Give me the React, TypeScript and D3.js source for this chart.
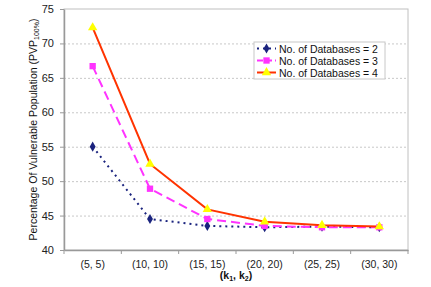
import { useRef, useEffect } from "react";
import * as d3 from "d3";

const categories = ["(5, 5)", "(10, 10)", "(15, 15)", "(20, 20)", "(25, 25)", "(30, 30)"];
const db2 = [55.0, 44.5, 43.5, 43.3, 43.4, 43.3];
const db3 = [66.7, 48.9, 44.5, 43.5, 43.3, 43.3];
const db4 = [72.3, 52.5, 45.9, 44.1, 43.6, 43.4];
const yTicks = [40, 45, 50, 55, 60, 65, 70, 75];
const seriesNames = ["No. of Databases = 2", "No. of Databases = 3", "No. of Databases = 4"];

const FONT = "'Liberation Sans', Arial, sans-serif";

export default function App() {
  const ref = useRef<SVGSVGElement>(null);

  useEffect(() => {
    if (!ref.current) return;
    const svg = d3.select(ref.current); svg.selectAll("*").remove();
    const margin = { top: 9, right: 23, bottom: 37, left: 64 };
    const W = 431, H = 287;
    const width = W - margin.left - margin.right;
    const height = H - margin.top - margin.bottom;
    svg.attr("width", W).attr("height", H);
    svg.append("rect").attr("width", W).attr("height", H).attr("fill", "#fff");
    const g = svg.append("g").attr("transform", `translate(${margin.left},${margin.top})`);

    const x = d3.scaleBand().domain(categories).range([0, width]);
    const y = d3.scaleLinear().domain([40, 75]).range([height, 0]);
    const cx = (c: string) => x(c)! + x.bandwidth() / 2;

    // plot frame
    g.append("rect").attr("x", 0).attr("y", 0).attr("width", width).attr("height", height)
      .attr("fill", "none").attr("stroke", "#c0c0c0").attr("stroke-width", 1);

    // gridlines
    g.selectAll(".grid").data(yTicks.filter(t => t > 40 && t < 75)).join("line")
      .attr("x1", 0).attr("x2", width).attr("y1", d => y(d) + 0.5).attr("y2", d => y(d) + 0.5)
      .attr("stroke", "#c8c8c8").attr("stroke-dasharray", "2,2");

    // axes
    const yAxis = g.append("g").call(d3.axisLeft(y).tickValues(yTicks).tickSize(4).tickSizeOuter(0).tickPadding(6));
    yAxis.selectAll("text").attr("fill", "#222").attr("font-size", "11px").attr("font-family", FONT);
    yAxis.select(".domain").attr("stroke", "#999").attr("stroke-width", 1.5);
    yAxis.selectAll(".tick line").attr("stroke", "#999");

    const xAxis = g.append("g").attr("transform", `translate(0,${height})`)
      .call(d3.axisBottom(x).tickSize(0).tickSizeOuter(0).tickPadding(11));
    xAxis.selectAll("text").attr("fill", "#222").attr("font-size", "10.5px").attr("font-family", FONT);
    xAxis.select(".domain").attr("stroke", "#999").attr("stroke-width", 1.5);
    g.selectAll(".xt").data(d3.range(categories.length + 1)).join("line")
      .attr("x1", i => i * x.bandwidth()).attr("x2", i => i * x.bandwidth())
      .attr("y1", height).attr("y2", height + 4).attr("stroke", "#999");

    // series
    const data = [db2, db3, db4];
    const colors = ["#1a237e", "#ff33ff", "#ff3300"];
    const dashes = ["2,4", "9,5", null];
    const line = d3.line<number>().x((_d, i) => cx(categories[i])).y(d => y(d));

    data.forEach((vals, s) => {
      const p = g.append("path").datum(vals).attr("fill", "none").attr("stroke", colors[s])
        .attr("stroke-width", 2).attr("d", line);
      if (dashes[s]) p.attr("stroke-dasharray", dashes[s]!);
    });

    const diamond = d3.symbol().type(d3.symbolDiamond).size(30);
    const square = d3.symbol().type(d3.symbolSquare).size(40);
    const tri = d3.symbol().type(d3.symbolTriangle).size(38);

    g.selectAll(".m2").data(db2).join("path")
      .attr("transform", (d, i) => `translate(${cx(categories[i])},${y(d)})`).attr("d", diamond).attr("fill", colors[0]);
    g.selectAll(".m3").data(db3).join("path")
      .attr("transform", (d, i) => `translate(${cx(categories[i])},${y(d)})`).attr("d", square).attr("fill", colors[1]);
    g.selectAll(".m4").data(db4).join("path")
      .attr("transform", (d, i) => `translate(${cx(categories[i])},${y(d)})`).attr("d", tri).attr("fill", "#ffff00");

    // legend
    const lg = svg.append("g").attr("transform", "translate(254,42)");
    lg.append("rect").attr("x", 0).attr("y", 0).attr("width", 131).attr("height", 37)
      .attr("fill", "#fff").attr("stroke", "#c8c8c8");
    const markers = [diamond, square, tri];
    const mfill = [colors[0], colors[1], "#ffff00"];
    seriesNames.forEach((name, s) => {
      const ly = 6.5 + s * 12;
      const l = lg.append("line").attr("x1", 3).attr("x2", 22).attr("y1", ly).attr("y2", ly)
        .attr("stroke", colors[s]).attr("stroke-width", 2);
      if (s === 0) l.attr("stroke-dasharray", "2,4");
      if (s === 1) l.attr("stroke-dasharray", "6,3");
      lg.append("path").attr("transform", `translate(12.5,${ly})`).attr("d", markers[s]).attr("fill", mfill[s]);
      lg.append("text").attr("x", 25).attr("y", ly + 4).attr("font-size", "10.5px").attr("font-family", FONT)
        .attr("fill", "#111").text(name);
    });

    // axis titles
    const xt = svg.append("text").attr("x", margin.left + width / 2).attr("y", 279).attr("text-anchor", "middle")
      .attr("font-size", "10.5px").attr("font-weight", "bold").attr("font-family", FONT).attr("fill", "#111");
    xt.append("tspan").text("(k");
    xt.append("tspan").attr("font-size", "7px").attr("dy", 2).text("1");
    xt.append("tspan").attr("dy", -2).text(", k");
    xt.append("tspan").attr("font-size", "7px").attr("dy", 2).text("2");
    xt.append("tspan").attr("dy", -2).text(")");

    const yt = svg.append("text").attr("transform", `translate(37,${margin.top + height / 2}) rotate(-90)`)
      .attr("text-anchor", "middle").attr("font-size", "10.5px").attr("font-family", FONT).attr("fill", "#111");
    yt.append("tspan").text("Percentage Of Vulnerable Population (PVP");
    yt.append("tspan").attr("font-size", "7px").attr("dy", 2).text("100%");
    yt.append("tspan").attr("dy", -2).text(")");
  }, []);

  return <svg ref={ref} style={{ position: "absolute", left: 0, top: 0, display: "block" }} />;
}
